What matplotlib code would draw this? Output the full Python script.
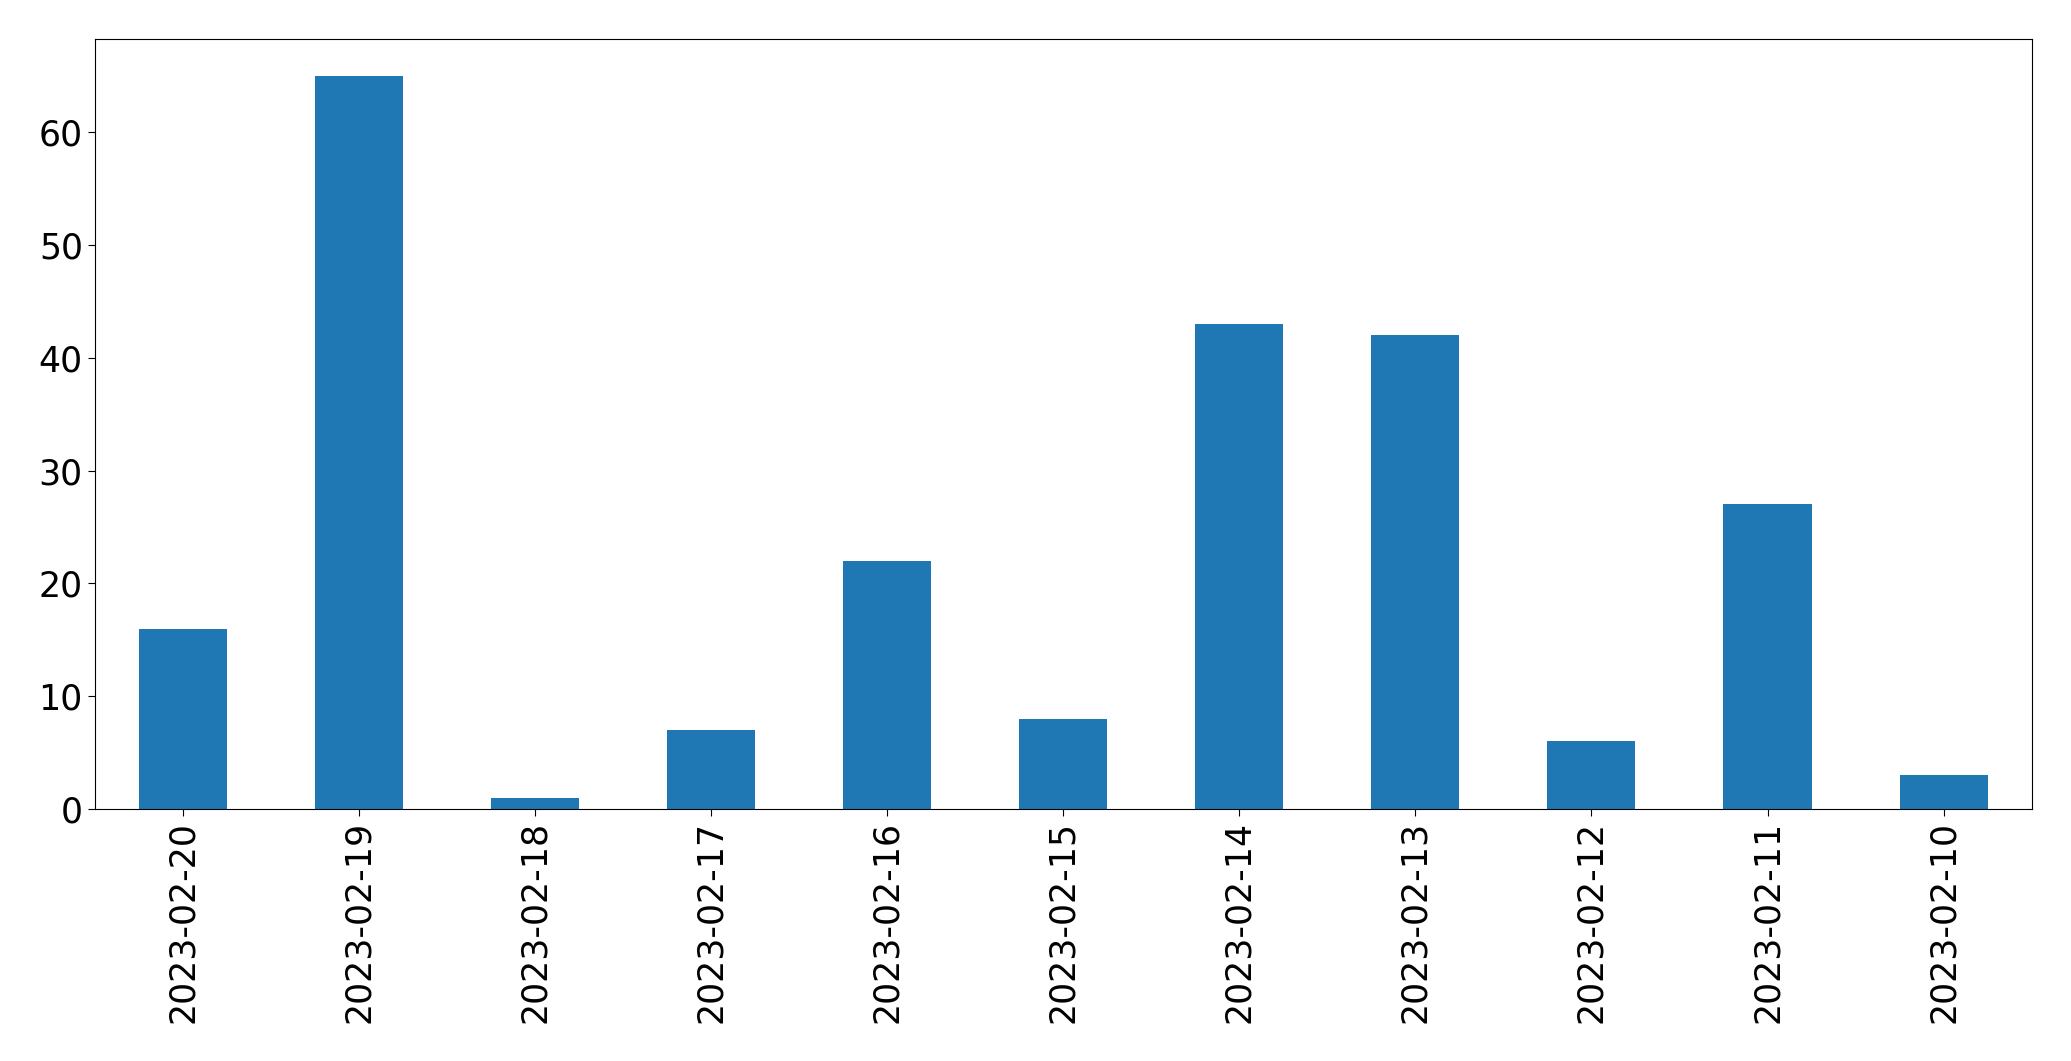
import matplotlib
matplotlib.use("Agg")
import matplotlib.pyplot as plt
import pandas as pd

dates = ["2023-02-20", "2023-02-19", "2023-02-18", "2023-02-17", "2023-02-16",
         "2023-02-15", "2023-02-14", "2023-02-13", "2023-02-12", "2023-02-11",
         "2023-02-10"]
counts = [16, 65, 1, 7, 22, 8, 43, 42, 6, 27, 3]

s = pd.Series(counts, index=dates)

fig = plt.figure(figsize=(20.71, 10.61), dpi=100)
ax = fig.add_axes([0.0457, 0.2375, 0.981 - 0.0457, 0.963 - 0.2375])
s.plot(kind="bar", ax=ax, color="#1f77b4", width=0.5)
ax.tick_params(labelsize=25, length=5)
fig.savefig("out.png", dpi=100)
